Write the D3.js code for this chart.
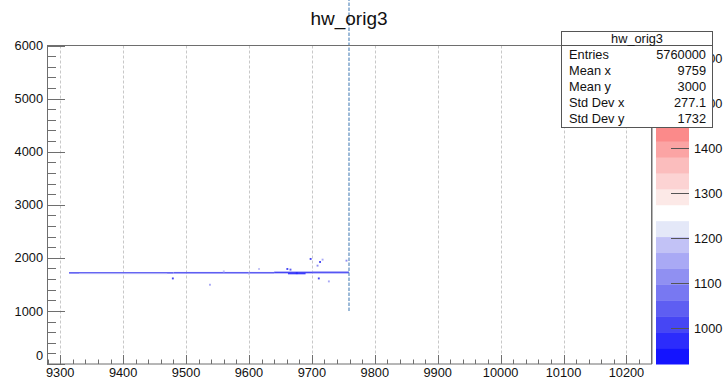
<!DOCTYPE html>
<html lang="en">
<head>
  <meta charset="UTF-8">
  <title>hw_orig3</title>
  <script src="https://d3js.org/d3.v7.min.js"></script>
  <style>
    body { margin: 0; background: #fff; }
    svg { display: block; font-family: "Liberation Sans", Arial, sans-serif; }
  </style>
</head>
<body>
  <div id="chart"></div>
  <script>
    // histogram ranges (from the stats: 960 x 6000 bins)
    const xRange = [9279, 10239];
    const yRange = [0, 6000];
    const zRange = [920, 1628];
    const nContours = 20;

    // tick labels
    const xTicks = [9300, 9400, 9500, 9600, 9700, 9800, 9900, 10000, 10100, 10200];
    const yTicks = [0, 1000, 2000, 3000, 4000, 5000, 6000];
    const zTicks = [1000, 1100, 1200, 1300, 1400, 1500, 1600];

    // palette band colours, bottom to top
    const bandColors = [
      "#1414ff", "#2c2cfc", "#4646f4", "#5e5ef2", "#7878f2",
      "#9090f2", "#a9a9f5", "#c2c2f6", "#e4e8f8", "#ffffff",
      "#fce9e7", "#fcd3d3", "#fbbdbd", "#fba4a4", "#fb8a8a",
      "#fa7272", "#f85a5a", "#f54242", "#f22a2a", "#ee1414"
    ];

    // filled band of cells (x0, x1, y0, y1, content)
    const segX0 = [9314, 9480, 9640, 9330, 9662, 9700];
    const segX1 = [9480, 9640, 9759, 9470, 9690, 9759];
    const segY0 = [1702, 1704, 1708, 1690, 1690, 1730];
    const segY1 = [1732, 1734, 1740, 1702, 1712, 1745];
    const segZ  = [1060, 1030, 1000, 1210, 980, 1150];

    // isolated cells (x, y, content)
    const dotX = [9479, 9538, 9543, 9616, 9661, 9666, 9676, 9698, 9717, 9713, 9709, 9711, 9727, 9755, 9560, 9600];
    const dotY = [1612, 1493, 1253, 1790, 1790, 1778, 1712, 1979, 1966, 1922, 1853, 1612, 1556, 1947, 1745, 1705];
    const dotZ = [1000, 1150, 1240, 1180, 1020, 1060, 960, 1000, 1150, 1000, 1100, 1000, 1150, 1100, 1200, 1150];

    // the column at the mean
    const meanX = 9759;
    const meanY0 = 1000;

    const stats = [
      ["Entries", "5760000"],
      ["Mean x", "9759"],
      ["Mean y", "3000"],
      ["Std Dev x", "277.1"],
      ["Std Dev y", "1732"]
    ];

    const W = 725, H = 385;
    const frame = { left: 47, right: 651, top: 45.5, bottom: 364 };
    const pal = { left: 656, right: 689 };

    const svg = d3.select("#chart").append("svg")
      .attr("width", W).attr("height", H);

    svg.append("rect").attr("width", W).attr("height", H).attr("fill", "#fff");

    const x = d3.scaleLinear().domain(xRange).range([frame.left, frame.right]);
    const y = d3.scaleLinear().domain(yRange).range([frame.bottom, frame.top]);
    const z = d3.scaleLinear().domain(zRange).range([frame.bottom, frame.top]);

    const zStep = (zRange[1] - zRange[0]) / nContours;
    const colorOf = v => {
      const i = Math.max(0, Math.min(nContours - 1, Math.floor((v - zRange[0]) / zStep)));
      return bandColors[i];
    };

    // vertical grid
    svg.append("g").selectAll("line")
      .data(xTicks).join("line")
      .attr("x1", d => Math.round(x(d)) + 0.5).attr("x2", d => Math.round(x(d)) + 0.5)
      .attr("y1", frame.top).attr("y2", frame.bottom)
      .attr("stroke", "#c8c8c8").attr("stroke-dasharray", "3,2");

    // cells
    const cells = svg.append("g");
    cells.selectAll("rect.seg")
      .data(d3.range(segX0.length)).join("rect")
      .attr("class", "seg")
      .attr("x", i => x(segX0[i]))
      .attr("width", i => x(segX1[i]) - x(segX0[i]))
      .attr("y", i => y(segY1[i]))
      .attr("height", i => y(segY0[i]) - y(segY1[i]))
      .attr("fill", i => colorOf(segZ[i]));

    cells.selectAll("rect.dot")
      .data(d3.range(dotX.length)).join("rect")
      .attr("class", "dot")
      .attr("x", i => x(dotX[i] - 1.5))
      .attr("width", i => x(dotX[i] + 1.5) - x(dotX[i] - 1.5))
      .attr("y", i => y(dotY[i] + 18))
      .attr("height", i => y(dotY[i] - 18) - y(dotY[i] + 18))
      .attr("fill", i => colorOf(dotZ[i]));

    // column at the mean, drawn up through the title
    svg.append("line")
      .attr("x1", x(meanX)).attr("x2", x(meanX))
      .attr("y1", y(meanY0)).attr("y2", 0)
      .attr("stroke", "#5b8cbf").attr("stroke-width", 1.2)
      .attr("stroke-dasharray", "3.5,1.5");

    // frame
    const axisCol = "#6e6e6e";
    svg.append("rect")
      .attr("x", frame.left + 0.5).attr("y", frame.top)
      .attr("width", frame.right - frame.left).attr("height", frame.bottom - frame.top)
      .attr("fill", "none").attr("stroke", axisCol);
    svg.append("line")
      .attr("x1", frame.right + 1.5).attr("x2", frame.right + 1.5)
      .attr("y1", frame.top).attr("y2", frame.bottom)
      .attr("stroke", "#b5b5b5");

    // x axis ticks
    const xMinor = d3.range(9280, xRange[1], 20);
    svg.append("g").selectAll("line")
      .data(xMinor).join("line")
      .attr("x1", d => Math.round(x(d)) + 0.5).attr("x2", d => Math.round(x(d)) + 0.5)
      .attr("y1", frame.bottom)
      .attr("y2", d => frame.bottom - (d % 100 === 0 ? 9 : 4.5))
      .attr("stroke", axisCol);
    svg.append("g").selectAll("text")
      .data(xTicks).join("text")
      .attr("x", d => x(d)).attr("y", 376.5)
      .attr("text-anchor", "middle").attr("font-size", 12.8).attr("fill", "#111")
      .text(d => d);

    // y axis ticks
    const yMinor = d3.range(0, yRange[1] + 1, 200);
    svg.append("g").selectAll("line")
      .data(yMinor).join("line")
      .attr("x1", frame.left)
      .attr("x2", d => frame.left + (d % 1000 === 0 ? 18 : 9))
      .attr("y1", d => Math.round(y(d)) + 0.5).attr("y2", d => Math.round(y(d)) + 0.5)
      .attr("stroke", axisCol);
    svg.append("g").selectAll("text")
      .data(yTicks).join("text")
      .attr("x", 43).attr("y", d => y(d) + (d === 0 ? -4 : 4.6))
      .attr("text-anchor", "end").attr("font-size", 12.8).attr("fill", "#111")
      .text(d => d);

    // palette
    const pg = svg.append("g");
    pg.selectAll("rect")
      .data(d3.range(nContours)).join("rect")
      .attr("x", pal.left).attr("width", pal.right - pal.left)
      .attr("y", i => z(zRange[0] + (i + 1) * zStep))
      .attr("height", i => z(zRange[0] + i * zStep) - z(zRange[0] + (i + 1) * zStep) + 0.5)
      .attr("fill", (d, i) => bandColors[i]);
    pg.selectAll("line")
      .data(zTicks).join("line")
      .attr("x1", pal.right - 18).attr("x2", pal.right)
      .attr("y1", d => Math.round(z(d)) + 0.5).attr("y2", d => Math.round(z(d)) + 0.5)
      .attr("stroke", "#555");
    pg.selectAll("text")
      .data(zTicks).join("text")
      .attr("x", 694).attr("y", d => z(d) + 4.6)
      .attr("font-size", 12.8).attr("fill", "#111")
      .text(d => d);

    // title
    svg.append("text")
      .attr("x", (frame.left + frame.right) / 2).attr("y", 25)
      .attr("text-anchor", "middle").attr("font-size", 19).attr("fill", "#111")
      .text("hw_orig3");

    // stats box (covers the upper palette labels, as in the original)
    const sb = svg.append("g");
    sb.append("rect")
      .attr("x", 561.5).attr("y", 31.5).attr("width", 151).attr("height", 96)
      .attr("fill", "#fff").attr("stroke", "#555");
    sb.append("line")
      .attr("x1", 561.5).attr("x2", 712.5).attr("y1", 45.5).attr("y2", 45.5)
      .attr("stroke", "#555");
    sb.append("text")
      .attr("x", 637).attr("y", 42.5)
      .attr("text-anchor", "middle").attr("font-size", 12.8).attr("fill", "#111")
      .text("hw_orig3");
    const rows = sb.selectAll("g.row").data(stats).join("g").attr("class", "row");
    rows.append("text")
      .attr("x", 569).attr("y", (d, i) => 59 + i * 16)
      .attr("font-size", 12.8).attr("fill", "#111")
      .text(d => d[0]);
    rows.append("text")
      .attr("x", 706).attr("y", (d, i) => 59 + i * 16)
      .attr("text-anchor", "end").attr("font-size", 12.8).attr("fill", "#111")
      .text(d => d[1]);
  </script>
</body>
</html>
